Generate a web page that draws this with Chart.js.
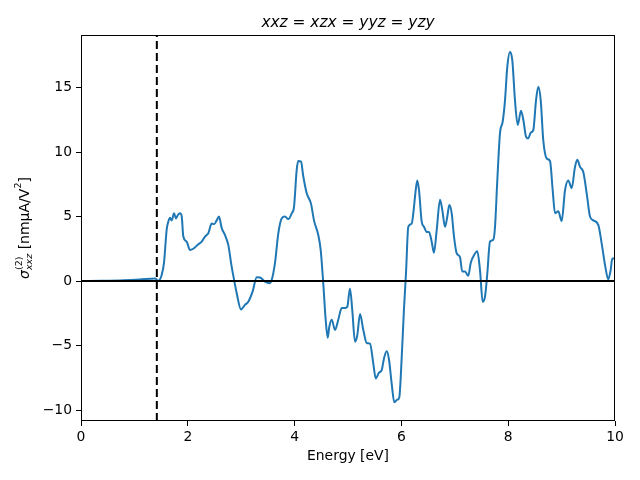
<!DOCTYPE html>
<html>
<head>
<meta charset="utf-8">
<script src="https://cdn.jsdelivr.net/npm/chart.js@4/dist/chart.umd.min.js"></script>
<style>
  html, body { margin: 0; padding: 0; background: #fff; }
  #wrap { width: 640px; height: 480px; position: relative; }
</style>
</head>
<body>
<div id="wrap"><canvas id="chart"></canvas></div>
<script>
// Energy grid (eV)
const energy = [
    0.0, 0.4, 0.8, 1.1, 1.386, 1.448, 1.511, 1.554, 1.605, 1.635, 1.667, 1.699, 1.742, 1.779, 1.811, 1.854, 1.886,
    1.916, 1.979, 2.041, 2.103, 2.197, 2.260, 2.322, 2.384, 2.448, 2.491, 2.541, 2.584, 2.635, 2.697, 2.758,
    2.822, 2.871, 2.916, 2.996, 3.071, 3.133, 3.215, 3.290, 3.352, 3.446, 3.526, 3.571, 3.633, 3.695, 3.758,
    3.820, 3.882, 3.946, 3.989, 4.039, 4.069, 4.120, 4.163, 4.227, 4.307, 4.363, 4.444, 4.489, 4.537, 4.582,
    4.620, 4.650, 4.695, 4.757, 4.818, 4.882, 4.944, 4.987, 5.037, 5.080, 5.131, 5.174, 5.225, 5.287, 5.350,
    5.412, 5.474, 5.519, 5.581, 5.631, 5.674, 5.725, 5.768, 5.818, 5.867, 5.923, 5.961, 6.006, 6.049, 6.086,
    6.129, 6.193, 6.223, 6.268, 6.298, 6.330, 6.380, 6.423, 6.474, 6.517, 6.567, 6.610, 6.661, 6.723, 6.766,
    6.816, 6.860, 6.897, 6.942, 6.985, 7.036, 7.097, 7.140, 7.191, 7.253, 7.298, 7.360, 7.421, 7.472, 7.522,
    7.566, 7.609, 7.659, 7.721, 7.753, 7.796, 7.846, 7.897, 7.940, 7.983, 8.034, 8.077, 8.127, 8.178, 8.240,
    8.283, 8.333, 8.376, 8.421, 8.470, 8.521, 8.564, 8.609, 8.657, 8.721, 8.783, 8.833, 8.876, 8.938, 9.002,
    9.064, 9.125, 9.189, 9.251, 9.294, 9.345, 9.406, 9.470, 9.532, 9.594, 9.687, 9.751, 9.813, 9.874, 9.919,
    9.949, 10.0
];
// sigma^(2)_xxz values (nm uA/V^2)
const sigma = [
    0.0, 0.02, 0.06, 0.12, 0.2, 0.02, 0.47, 1.4, 4.0, 4.6, 4.9, 4.7, 5.25, 4.85, 5.1, 5.25, 5.0,
    3.45, 3.05, 2.4, 2.5, 2.85, 3.05, 3.45, 3.7, 4.45, 4.4, 4.7, 5.0, 4.1, 3.55, 2.8,
    1.1, 0.0, -0.95, -2.2, -1.85, -1.6, -0.8, 0.3, 0.27, -0.05, -0.18, 0.08, 1.4, 3.7, 4.85,
    5.0, 4.8, 5.25, 5.75, 8.6, 9.3, 9.25, 8.1, 6.8, 6.0, 4.7, 3.55, 2.4, -0.2, -3.0,
    -4.4, -3.55, -3.0, -3.8, -3.0, -2.1, -2.1, -2.0, -0.57, -2.25, -4.7, -4.2, -2.55, -3.8, -4.8,
    -4.85, -6.4, -7.55, -7.1, -6.9, -6.0, -5.45, -6.1, -7.95, -9.4, -9.2, -9.0, -5.9, -2.1, 0.6,
    4.2, 4.45, 5.25, 7.05, 7.8, 7.05, 4.6, 4.2, 3.8, 3.8, 3.05, 2.2, 3.95, 6.3, 5.5,
    4.2, 5.0, 5.9, 5.25, 3.45, 2.15, 1.85, 0.73, 0.73, 0.4, 1.4, 2.0, 2.3, 0.85, -1.6,
    -1.2, 0.6, 3.05, 3.2, 4.2, 7.8, 11.45, 12.35, 14.0, 16.6, 17.75, 17.1, 14.0, 12.1, 13.2,
    12.5, 11.2, 11.05, 11.5, 11.7, 14.0, 15.05, 14.0, 10.9, 9.5, 9.3, 7.05, 5.25, 5.4, 4.65,
    7.05, 7.8, 7.2, 8.85, 9.4, 8.85, 8.45, 6.8, 5.0, 4.7, 4.35, 2.9, 1.25, 0.13, 0.85,
    1.75, 1.75
];
const bandGap = 1.42;
const xTicks = [0, 2, 4, 6, 8, 10];
const yTicks = [-10, -5, 0, 5, 10, 15];
const xRange = [0, 10];
const yRange = [-10.85, 19.07];
const titleText = 'xxz = xzx = yyz = yzy';

const FONT = "'DejaVu Sans', sans-serif";

// draws the four spines of the axes box
const frame = {
    id: 'frame',
    afterDatasetsDraw(chart) {
        const a = chart.chartArea;
        const ctx = chart.ctx;
        ctx.save();
        ctx.strokeStyle = '#000';
        ctx.lineWidth = 1;
        ctx.strokeRect(a.left + 0.5, a.top + 0.5, a.right - a.left - 1, a.bottom - a.top - 1);
        ctx.restore();
    }
};

// title centred over the axes, like matplotlib
const axesTitle = {
    id: 'axesTitle',
    afterDraw(chart) {
        const a = chart.chartArea;
        const ctx = chart.ctx;
        ctx.save();
        ctx.fillStyle = '#000';
        ctx.font = 'italic 15.4px ' + FONT;
        ctx.textAlign = 'center';
        ctx.textBaseline = 'alphabetic';
        ctx.fillText(titleText, (a.left + a.right) / 2, 27);
        ctx.restore();
    }
};

// y label with super/subscripts: sigma^(2)_xxz [nm uA/V^2]
const yLabel = {
    id: 'yLabel',
    afterDraw(chart) {
        const a = chart.chartArea;
        const ctx = chart.ctx;
        const parts = [
            { t: 'σ', size: 14, style: 'italic', dy: 0 },
            { t: '(2)', size: 9.5, style: 'normal', dy: -5, sub: 'xxz' },
            { t: ' [nmμA/V', size: 14, style: 'normal', dy: 0 },
            { t: '2', size: 9.5, style: 'normal', dy: -6 },
            { t: ']', size: 14, style: 'normal', dy: 0 }
        ];
        ctx.save();
        let total = 0;
        parts.forEach(p => {
            ctx.font = p.style + ' ' + p.size + 'px ' + FONT;
            let w = ctx.measureText(p.t).width;
            if (p.sub) {
                ctx.font = 'italic 9.5px ' + FONT;
                w = Math.max(w, ctx.measureText(p.sub).width);
            }
            p.w = w;
            total += w;
        });
        ctx.translate(25, (a.top + a.bottom) / 2);
        ctx.rotate(-Math.PI / 2);
        ctx.fillStyle = '#000';
        ctx.textBaseline = 'middle';
        ctx.textAlign = 'left';
        let x = -total / 2;
        parts.forEach(p => {
            ctx.font = p.style + ' ' + p.size + 'px ' + FONT;
            ctx.fillText(p.t, x, p.dy);
            if (p.sub) {
                ctx.font = 'italic 9.5px ' + FONT;
                ctx.fillText(p.sub, x, 5);
            }
            x += p.w;
        });
        ctx.restore();
    }
};

const curve = energy.map((e, i) => ({ x: e, y: sigma[i] }));

new Chart(document.getElementById('chart'), {
    type: 'line',
    data: {
        datasets: [
            {
                data: curve,
                borderColor: '#1f77b4',
                borderWidth: 2,
                pointRadius: 0,
                cubicInterpolationMode: 'monotone',
                order: 2
            },
            {
                data: [{ x: xRange[0], y: 0 }, { x: xRange[1], y: 0 }],
                borderColor: '#000',
                borderWidth: 2,
                pointRadius: 0,
                order: 1
            },
            {
                data: [{ x: bandGap, y: yRange[0] }, { x: bandGap, y: yRange[1] }],
                borderColor: '#000',
                borderWidth: 2,
                borderDash: [8, 4],
                pointRadius: 0,
                order: 1
            }
        ]
    },
    options: {
        responsive: true,
        maintainAspectRatio: false,
        animation: false,
        layout: { padding: { top: 35, right: 25, bottom: 0, left: 0 } },
        plugins: {
            legend: { display: false },
            tooltip: { enabled: false },
            title: { display: false }
        },
        scales: {
            x: {
                type: 'linear',
                min: xRange[0],
                max: xRange[1],
                afterBuildTicks: s => { s.ticks = xTicks.map(v => ({ value: v })); },
                afterFit: s => { s.height = 59; },
                border: { display: false },
                grid: { drawOnChartArea: false, drawTicks: true, tickLength: 5, color: '#000' },
                ticks: { color: '#000', padding: 3, maxRotation: 0, font: { family: FONT, size: 13.9 } },
                title: {
                    display: true,
                    text: 'Energy [eV]',
                    color: '#000',
                    font: { family: FONT, size: 13.9, lineHeight: 1.2 },
                    padding: { top: 4, bottom: 15 }
                }
            },
            y: {
                min: yRange[0],
                max: yRange[1],
                afterBuildTicks: s => { s.ticks = yTicks.map(v => ({ value: v })); },
                afterFit: s => { s.width = 81; },
                border: { display: false },
                grid: { drawOnChartArea: false, drawTicks: true, tickLength: 5, color: '#000' },
                ticks: {
                    color: '#000',
                    padding: 4,
                    font: { family: FONT, size: 13.9 },
                    callback: v => v < 0 ? '\u2212' + Math.abs(v) : String(v)
                }
            }
        }
    },
    plugins: [frame, axesTitle, yLabel]
});
</script>
</body>
</html>
